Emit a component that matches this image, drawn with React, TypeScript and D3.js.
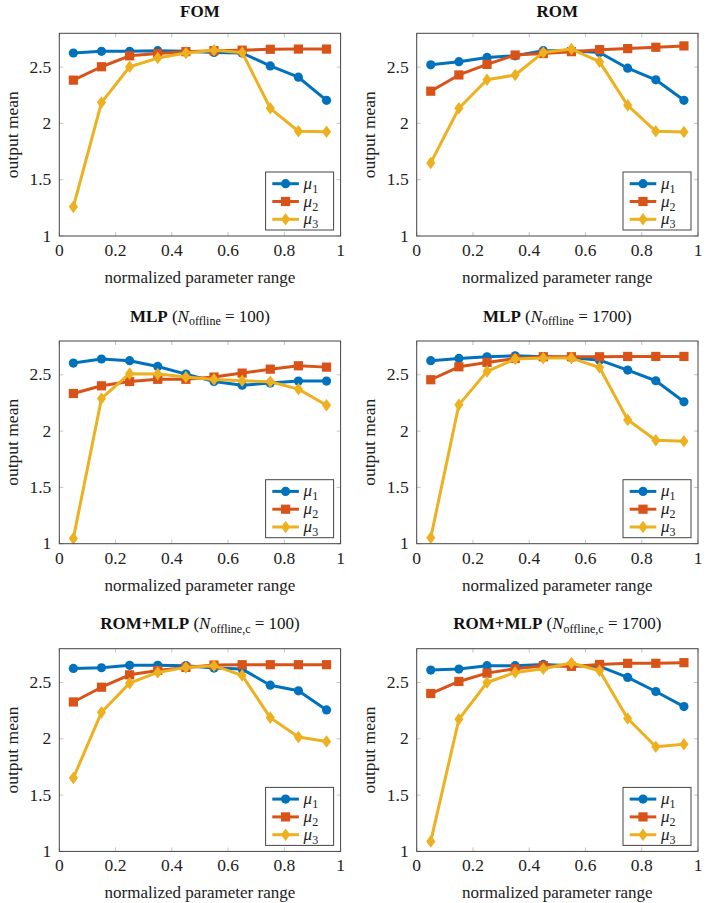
import React from "react";
import * as d3 from "d3";

const xs = [0.05, 0.15, 0.25, 0.35, 0.45, 0.55, 0.65, 0.75, 0.85, 0.95];
const xTicks = [0, 0.2, 0.4, 0.6, 0.8, 1];
const yTicks = [1, 1.5, 2, 2.5];
const seriesNames = ["μ1", "μ2", "μ3"];
const colors = ["#0072BD", "#D95319", "#EDB120"];

const fomMu1 = [2.625, 2.64, 2.64, 2.646, 2.64, 2.63, 2.625, 2.51, 2.41, 2.205];
const fomMu2 = [2.384, 2.503, 2.6, 2.62, 2.637, 2.646, 2.65, 2.658, 2.66, 2.66];
const fomMu3 = [1.259, 2.185, 2.503, 2.58, 2.625, 2.65, 2.63, 2.134, 1.93, 1.926];

const romMu1 = [2.52, 2.548, 2.586, 2.6, 2.646, 2.646, 2.63, 2.49, 2.387, 2.205];
const romMu2 = [2.286, 2.43, 2.524, 2.607, 2.62, 2.637, 2.655, 2.664, 2.676, 2.688];
const romMu3 = [1.649, 2.134, 2.387, 2.43, 2.63, 2.66, 2.548, 2.16, 1.93, 1.923];

const mlp100Mu1 = [2.604, 2.64, 2.625, 2.574, 2.506, 2.44, 2.408, 2.426, 2.444, 2.444];
const mlp100Mu2 = [2.334, 2.402, 2.44, 2.46, 2.46, 2.48, 2.515, 2.55, 2.58, 2.568];
const mlp100Mu3 = [1.047, 2.29, 2.51, 2.506, 2.48, 2.459, 2.447, 2.438, 2.373, 2.23];

const mlp1700Mu1 = [2.625, 2.645, 2.66, 2.669, 2.66, 2.654, 2.63, 2.542, 2.447, 2.26];
const mlp1700Mu2 = [2.456, 2.571, 2.61, 2.645, 2.66, 2.66, 2.66, 2.663, 2.663, 2.663];
const mlp1700Mu3 = [1.053, 2.233, 2.53, 2.64, 2.648, 2.648, 2.565, 2.1, 1.919, 1.91];

const rm100Mu1 = [2.625, 2.631, 2.652, 2.652, 2.649, 2.628, 2.619, 2.476, 2.426, 2.256];
const rm100Mu2 = [2.327, 2.458, 2.568, 2.607, 2.634, 2.655, 2.658, 2.658, 2.658, 2.658];
const rm100Mu3 = [1.652, 2.235, 2.494, 2.589, 2.634, 2.649, 2.563, 2.188, 2.015, 1.976];

const rm1700Mu1 = [2.61, 2.619, 2.649, 2.649, 2.66, 2.649, 2.643, 2.545, 2.42, 2.286];
const rm1700Mu2 = [2.402, 2.509, 2.583, 2.622, 2.649, 2.643, 2.66, 2.67, 2.67, 2.676];
const rm1700Mu3 = [1.089, 2.173, 2.5, 2.589, 2.622, 2.673, 2.604, 2.18, 1.929, 1.952];

type Panel = {
  main: string;
  sub?: string;
  num?: string;
  series: number[][];
  col: number;
  row: number;
};

const panels: Panel[] = [
  { main: "FOM", series: [fomMu1, fomMu2, fomMu3], col: 0, row: 0 },
  { main: "ROM", series: [romMu1, romMu2, romMu3], col: 1, row: 0 },
  { main: "MLP", sub: "offline", num: "100", series: [mlp100Mu1, mlp100Mu2, mlp100Mu3], col: 0, row: 1 },
  { main: "MLP", sub: "offline", num: "1700", series: [mlp1700Mu1, mlp1700Mu2, mlp1700Mu3], col: 1, row: 1 },
  { main: "ROM+MLP", sub: "offline,c", num: "100", series: [rm100Mu1, rm100Mu2, rm100Mu3], col: 0, row: 2 },
  { main: "ROM+MLP", sub: "offline,c", num: "1700", series: [rm1700Mu1, rm1700Mu2, rm1700Mu3], col: 1, row: 2 },
];

const colLeft = [59.3, 416.7];
const rowTop = [33.3, 341, 648.7];
const titleBase = [17.3, 321.7, 629.3];
const PW = 281.3;
const PH = 202.7;
const FONT = "Liberation Serif, Times New Roman, Times, serif";

function Marker({ kind, x, y, color }: { kind: number; x: number; y: number; color: string }) {
  if (kind === 0) return <circle cx={x} cy={y} r={4.6} fill={color} />;
  if (kind === 1) return <rect x={x - 4.6} y={y - 4.6} width={9.2} height={9.2} fill={color} />;
  return <path d={`M${x},${y - 6.3}L${x + 4.6},${y}L${x},${y + 6.3}L${x - 4.6},${y}Z`} fill={color} />;
}

function PanelView({ p }: { p: Panel }) {
  const left = colLeft[p.col];
  const top = rowTop[p.row];
  const x = d3.scaleLinear().domain([0, 1]).range([left, left + PW]);
  const y = d3.scaleLinear().domain([1, 2.8]).range([top + PH, top]);
  const line = d3
    .line<number>()
    .x((_, i) => x(xs[i]))
    .y((v) => y(v));
  const cx = left + PW / 2;
  const legR = left + PW - 7;
  const legB = top + PH - 6;
  const legW = 68;
  const legH = 58;
  const legL = legR - legW;
  const legT = legB - legH;
  const txt = { fontFamily: FONT, fill: "#222" } as const;
  return (
    <g>
      {xTicks.map((t) => (
        <g key={"xt" + t}>
          <line x1={x(t)} x2={x(t)} y1={top + PH} y2={top + PH - 4} stroke="#b5b5b5" strokeWidth={0.8} />
          <line x1={x(t)} x2={x(t)} y1={top} y2={top + 4} stroke="#b5b5b5" strokeWidth={0.8} />
          <text x={x(t)} y={top + PH + 20} textAnchor="middle" fontSize={17.5} style={txt}>
            {t === 0 || t === 1 ? String(t) : t.toFixed(1)}
          </text>
        </g>
      ))}
      {yTicks.map((t) => (
        <g key={"yt" + t}>
          <line x1={left} x2={left + 4} y1={y(t)} y2={y(t)} stroke="#b5b5b5" strokeWidth={0.8} />
          <line x1={left + PW} x2={left + PW - 4} y1={y(t)} y2={y(t)} stroke="#b5b5b5" strokeWidth={0.8} />
          <text x={left - 8} y={y(t) + 5.5} textAnchor="end" fontSize={17.5} style={txt}>
            {String(t)}
          </text>
        </g>
      ))}
      {p.series.map((s, k) => (
        <g key={"s" + k}>
          <path d={line(s) || ""} fill="none" stroke={colors[k]} strokeWidth={3} strokeLinejoin="round" />
          {s.map((v, i) => (
            <Marker key={i} kind={k} x={x(xs[i])} y={y(v)} color={colors[k]} />
          ))}
        </g>
      ))}
      <rect x={left} y={top} width={PW} height={PH} fill="none" stroke="#444" strokeWidth={1} />
      <rect x={legL} y={legT} width={legW} height={legH} fill="white" stroke="#444" strokeWidth={1} />
      {seriesNames.map((n, k) => {
        const ly = legT + 11.7 + k * 17.8;
        return (
          <g key={"l" + k}>
            <line x1={legL + 6.7} x2={legL + 33.3} y1={ly} y2={ly} stroke={colors[k]} strokeWidth={3} />
            <Marker kind={k} x={legL + 20} y={ly} color={colors[k]} />
            <text x={legL + 38} y={ly + 5} fontSize={17} style={txt}>
              <tspan fontStyle="italic">μ</tspan>
              <tspan fontSize={12} dy={4}>{String(k + 1)}</tspan>
            </text>
          </g>
        );
      })}
      <text x={cx} y={top + PH + 47} textAnchor="middle" fontSize={17} style={txt}>
        normalized parameter range
      </text>
      <text
        transform={`translate(${left - 46.6},${top + PH / 2}) rotate(-90)`}
        textAnchor="middle"
        dy={5}
        fontSize={17.5}
        style={txt}
      >
        output mean
      </text>
      <text x={cx} y={titleBase[p.row]} textAnchor="middle" fontSize={17} style={{ fontFamily: FONT, fill: "#111" }}>
        <tspan fontWeight="bold">{p.main}</tspan>
        {p.sub ? (
          <>
            <tspan> (</tspan>
            <tspan fontStyle="italic">N</tspan>
            <tspan fontSize={12} dy={3.5}>{p.sub}</tspan>
            <tspan dy={-3.5}>{" = " + p.num + ")"}</tspan>
          </>
        ) : null}
      </text>
    </g>
  );
}

export default function App() {
  return (
    <svg
      width={709}
      height={903}
      viewBox="0 0 709 903"
      style={{ position: "absolute", left: 0, top: 0, background: "white" }}
    >
      <rect x={0} y={0} width={709} height={903} fill="white" />
      {panels.map((p, i) => (
        <PanelView key={i} p={p} />
      ))}
    </svg>
  );
}
